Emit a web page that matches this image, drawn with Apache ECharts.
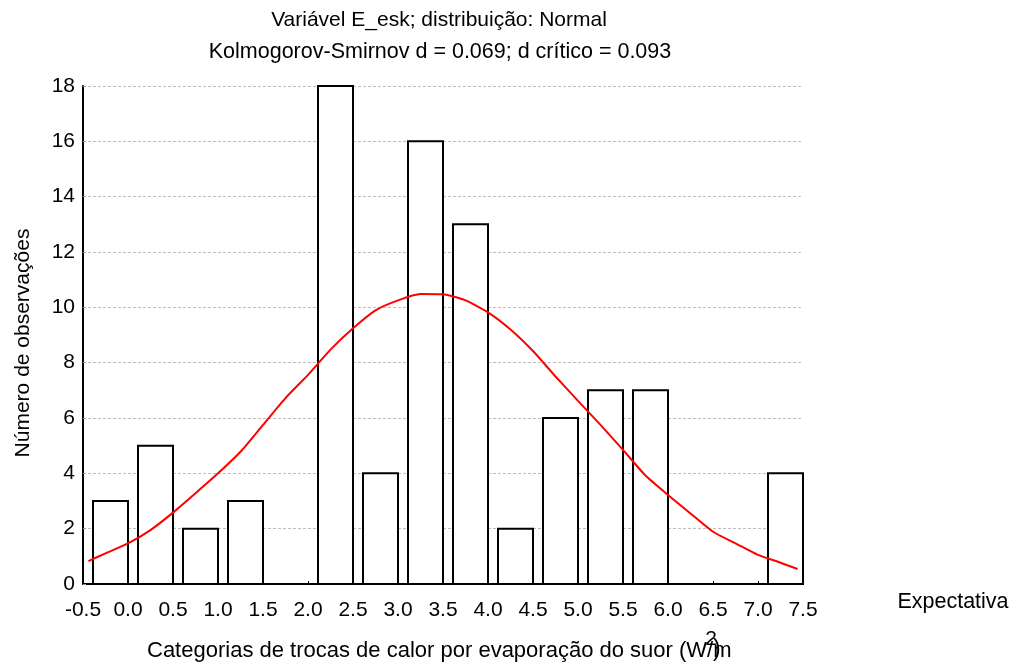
<!DOCTYPE html>
<html>
<head>
<meta charset="utf-8">
<script src="https://cdn.jsdelivr.net/npm/echarts@6/dist/echarts.min.js"></script>
<style>
  html, body { margin: 0; padding: 0; background: #fff; }
  #chart { width: 1017px; height: 669px; }
</style>
</head>
<body>
<div id="chart"></div>
<script>
// ---- data ----
const binStart = [-0.5, 0.0, 0.5, 1.0, 1.5, 2.0, 2.5, 3.0, 3.5, 4.0, 4.5, 5.0, 5.5, 6.0, 6.5, 7.0];
const binEnd   = [ 0.0, 0.5, 1.0, 1.5, 2.0, 2.5, 3.0, 3.5, 4.0, 4.5, 5.0, 5.5, 6.0, 6.5, 7.0, 7.5];
const counts   = [3, 5, 2, 3, 0, 18, 4, 16, 13, 2, 6, 7, 7, 0, 0, 4];

// expected (normal) curve
const curveX = [-0.44, -0.25, 0.0, 0.25, 0.5, 0.75, 1.0, 1.25, 1.5, 1.75, 2.0, 2.25, 2.5, 2.75, 3.0, 3.25,
                3.5, 3.75, 4.0, 4.25, 4.5, 4.75, 5.0, 5.25, 5.5, 5.75, 6.0, 6.25, 6.5, 6.75, 7.0, 7.25, 7.44];
const curveY = [0.83, 1.11, 1.47, 1.95, 2.58, 3.28, 4.0, 4.78, 5.75, 6.72, 7.56, 8.47, 9.24, 9.89, 10.25, 10.48,
                10.47, 10.25, 9.82, 9.2, 8.42, 7.5, 6.62, 5.75, 4.85, 3.92, 3.22, 2.55, 1.89, 1.47, 1.05, 0.77, 0.54];

const titleLines = ['Variável E_esk; distribuição: Normal', 'Kolmogorov-Smirnov d = 0.069; d crítico = 0.093'];
const xAxisTitle = 'Categorias de trocas de calor por evaporação do suor (W/m';
const yAxisTitle = 'Número de observações';
const legendText = 'Expectativa';

const FONT = '"Liberation Sans", Arial, sans-serif';

const chart = echarts.init(document.getElementById('chart'), null, { renderer: 'canvas' });

const option = {
  animation: false,
  backgroundColor: '#fff',
  grid: { left: 83, right: 214, top: 86, bottom: 85 },
  xAxis: {
    type: 'value', min: -0.5, max: 7.5, interval: 0.5,
    axisLine: { show: true, onZero: false, lineStyle: { color: '#000', width: 2 } },
    axisTick: { show: true, inside: true, length: 3, lineStyle: { color: '#000', width: 1 } },
    axisLabel: { color: '#000', fontSize: 21, fontFamily: FONT, margin: 16,
                 showMinLabel: true, showMaxLabel: true,
                 formatter: v => v.toFixed(1) },
    splitLine: { show: false }
  },
  yAxis: {
    type: 'value', min: 0, max: 18, interval: 2,
    axisLine: { show: true, onZero: false, lineStyle: { color: '#000', width: 2 } },
    axisTick: { show: true, inside: true, length: 3, lineStyle: { color: '#999', width: 1 } },
    axisLabel: { color: '#000', fontSize: 21, fontFamily: FONT, margin: 8, padding: [8, 0, 0, 0] },
    splitLine: { show: true, lineStyle: { color: '#bdbdbd', width: 1, type: [3, 2] } }
  },
  series: [
    {
      type: 'custom',
      z: 2,
      data: binStart.map((s, i) => [s, binEnd[i], counts[i]]),
      encode: { x: [0, 1], y: 2 },
      renderItem: function (params, api) {
        const v = api.value(2);
        if (!v) return null;
        const p0 = api.coord([api.value(0), 0]);
        const p1 = api.coord([api.value(1), v]);
        const gap = 10;
        return {
          type: 'rect',
          shape: { x: p0[0] + gap, y: p1[1], width: p1[0] - p0[0] - gap, height: p0[1] - p1[1] },
          style: { fill: '#fff', stroke: '#000', lineWidth: 2 }
        };
      }
    },
    {
      type: 'line',
      z: 3,
      data: curveX.map((x, i) => [x, curveY[i]]),
      showSymbol: false,
      smooth: 0.2,
      lineStyle: { color: '#ff0000', width: 2 }
    }
  ],
  graphic: [
    { type: 'text', x: 439, y: 20, style: { text: titleLines[0], fontSize: 21, fontFamily: FONT, fill: '#000', align: 'center', verticalAlign: 'middle' } },
    { type: 'text', x: 440, y: 52, style: { text: titleLines[1], fontSize: 21.5, fontFamily: FONT, fill: '#000', align: 'center', verticalAlign: 'middle' } },
    { type: 'text', x: 23, y: 343, rotation: Math.PI / 2, style: { text: yAxisTitle, fontSize: 21, fontFamily: FONT, fill: '#000', align: 'center', verticalAlign: 'middle' } },
    { type: 'text', x: 147, y: 651, style: { text: xAxisTitle, fontSize: 22, fontFamily: FONT, fill: '#000', align: 'left', verticalAlign: 'middle' } },
    { type: 'text', x: 711, y: 639, style: { text: '2', fontSize: 21, fontFamily: FONT, fill: '#000', align: 'center', verticalAlign: 'middle' } },
    { type: 'text', x: 713, y: 650, style: { text: ')', fontSize: 23, fontFamily: FONT, fill: '#000', align: 'left', verticalAlign: 'middle' } },
    { type: 'text', x: 953, y: 602, style: { text: legendText, fontSize: 21.5, fontFamily: FONT, fill: '#000', align: 'center', verticalAlign: 'middle' } }
  ]
};

chart.setOption(option);
</script>
</body>
</html>
